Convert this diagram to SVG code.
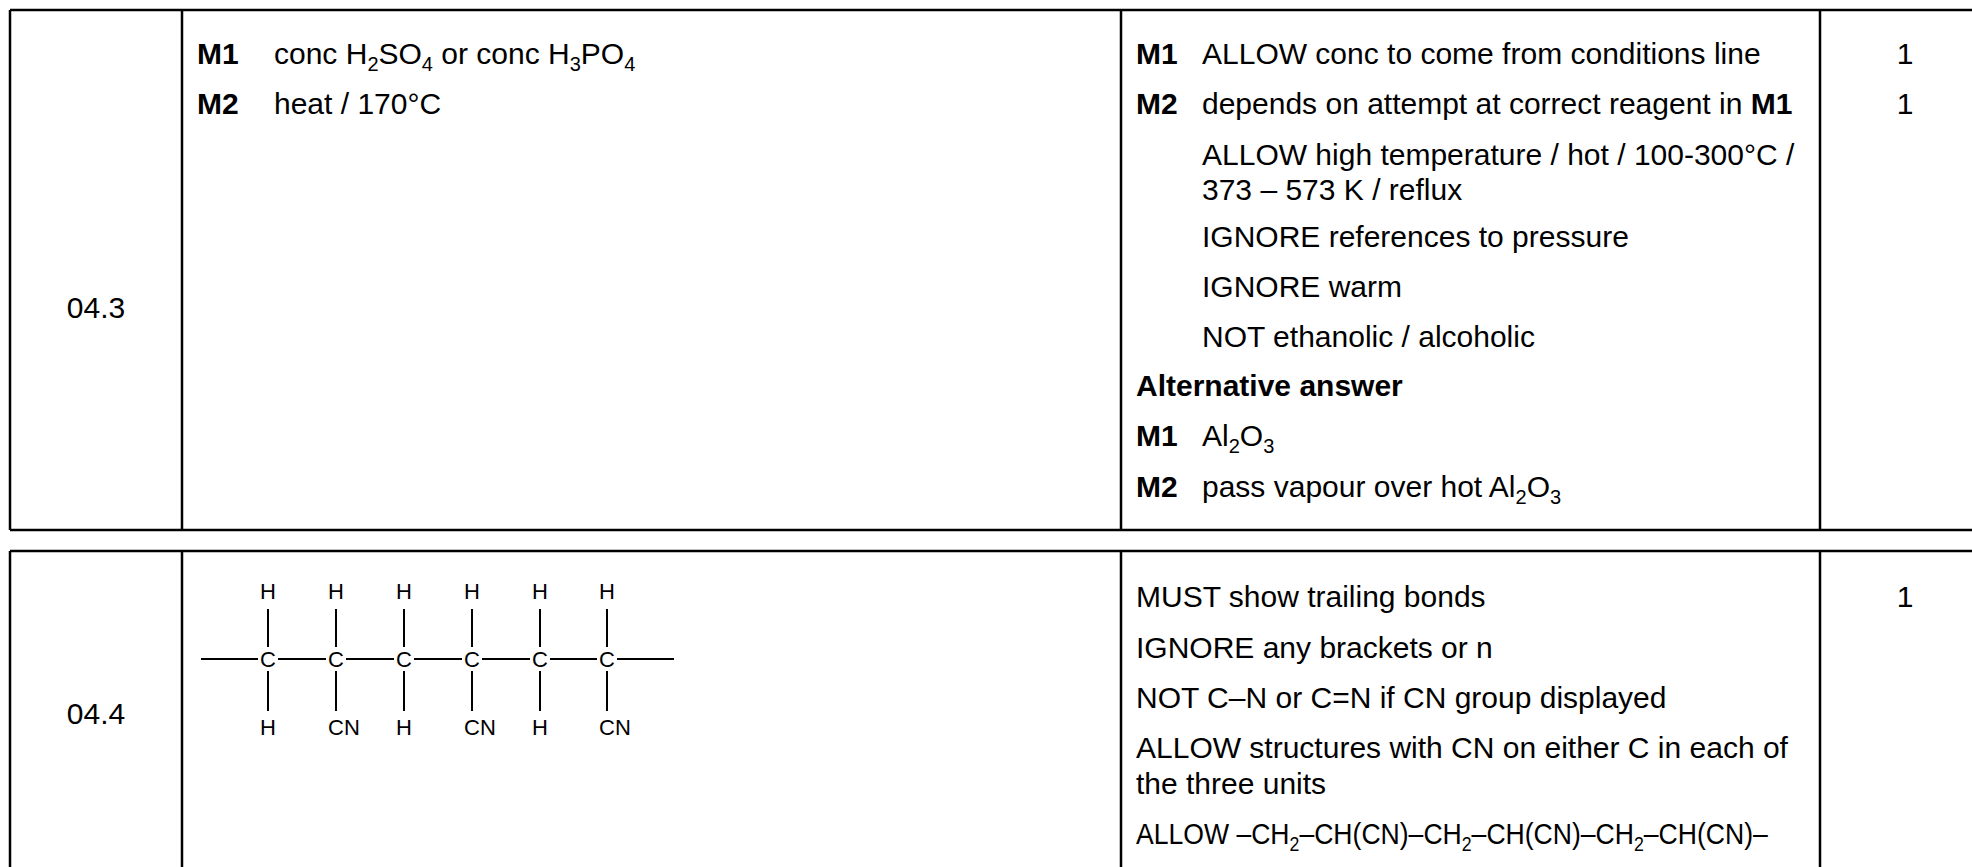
<svg xmlns="http://www.w3.org/2000/svg" width="1972" height="867" viewBox="0 0 1972 867">
<style>
.t{font-family:"Liberation Sans",Arial,sans-serif;font-size:30px;fill:#000}
.b{font-weight:bold}
.s{font-family:"Liberation Sans",Arial,sans-serif;font-size:22px;fill:#000}
.ln{stroke:#000;stroke-width:2.5;fill:none}
.bd{stroke:#000;stroke-width:2;fill:none}
</style>
<rect width="1972" height="867" fill="#fff"/>
<g id="table1">
<line class="ln" x1="10" y1="10" x2="1972" y2="10"/>
<line class="ln" x1="10" y1="530" x2="1972" y2="530"/>
<line class="ln" x1="10" y1="10" x2="10" y2="530"/>
<line class="ln" x1="182" y1="10" x2="182" y2="530"/>
<line class="ln" x1="1121" y1="10" x2="1121" y2="530"/>
<line class="ln" x1="1820" y1="10" x2="1820" y2="530"/>
</g>
<g id="row043">
<text class="t" x="96" y="318" text-anchor="middle">04.3</text>
<text class="t b" x="197" y="64">M1</text>
<text class="t" x="274" y="64">conc H<tspan font-size="20" dy="7">2</tspan><tspan dy="-7">SO</tspan><tspan font-size="20" dy="7">4</tspan><tspan dy="-7"> or conc H</tspan><tspan font-size="20" dy="7">3</tspan><tspan dy="-7">PO</tspan><tspan font-size="20" dy="7">4</tspan></text>
<text class="t b" x="197" y="114">M2</text>
<text class="t" x="274" y="114">heat / 170°C</text>
<text class="t b" x="1136" y="64">M1</text>
<text class="t" x="1202" y="64">ALLOW conc to come from conditions line</text>
<text class="t b" x="1136" y="114">M2</text>
<text class="t" x="1202" y="114">depends on attempt at correct reagent in <tspan class="b">M1</tspan></text>
<text class="t" x="1202" y="165">ALLOW high temperature / hot / 100-300°C /</text>
<text class="t" x="1202" y="200">373 – 573 K / reflux</text>
<text class="t" x="1202" y="247">IGNORE references to pressure</text>
<text class="t" x="1202" y="297">IGNORE warm</text>
<text class="t" x="1202" y="347">NOT ethanolic / alcoholic</text>
<text class="t b" x="1136" y="396">Alternative answer</text>
<text class="t b" x="1136" y="446">M1</text>
<text class="t" x="1202" y="446">Al<tspan font-size="20" dy="7">2</tspan><tspan dy="-7">O</tspan><tspan font-size="20" dy="7">3</tspan></text>
<text class="t b" x="1136" y="497">M2</text>
<text class="t" x="1202" y="497">pass vapour over hot Al<tspan font-size="20" dy="7">2</tspan><tspan dy="-7">O</tspan><tspan font-size="20" dy="7">3</tspan></text>
<text class="t" x="1905" y="64" text-anchor="middle">1</text>
<text class="t" x="1905" y="114" text-anchor="middle">1</text>
</g>
<g id="table2">
<line class="ln" x1="10" y1="551" x2="1972" y2="551"/>
<line class="ln" x1="10" y1="551" x2="10" y2="867"/>
<line class="ln" x1="182" y1="551" x2="182" y2="867"/>
<line class="ln" x1="1121" y1="551" x2="1121" y2="867"/>
<line class="ln" x1="1820" y1="551" x2="1820" y2="867"/>
</g>
<g id="row044">
<text class="t" x="96" y="724" text-anchor="middle">04.4</text>
<text class="t" x="1136" y="607">MUST show trailing bonds</text>
<text class="t" x="1136" y="658">IGNORE any brackets or n</text>
<text class="t" x="1136" y="708">NOT C–N or C=N if CN group displayed</text>
<text class="t" x="1136" y="758">ALLOW structures with CN on either C in each of</text>
<text class="t" x="1136" y="794">the three units</text>
<text class="t" transform="translate(1136,844) scale(0.886,1)" x="0" y="0">ALLOW –CH<tspan font-size="20" dy="7">2</tspan><tspan dy="-7">–CH(CN)–CH</tspan><tspan font-size="20" dy="7">2</tspan><tspan dy="-7">–CH(CN)–CH</tspan><tspan font-size="20" dy="7">2</tspan><tspan dy="-7">–CH(CN)–</tspan></text>
<text class="t" x="1905" y="607" text-anchor="middle">1</text>
</g>
<g id="structure">
<g class="bd">
<line x1="201" y1="659" x2="258" y2="659"/>
<line x1="278" y1="659" x2="326" y2="659"/>
<line x1="346" y1="659" x2="394" y2="659"/>
<line x1="414" y1="659" x2="462" y2="659"/>
<line x1="482" y1="659" x2="530" y2="659"/>
<line x1="550" y1="659" x2="597" y2="659"/>
<line x1="617" y1="659" x2="674" y2="659"/>
<line x1="268" y1="609" x2="268" y2="647"/><line x1="268" y1="671" x2="268" y2="711"/>
<line x1="336" y1="609" x2="336" y2="647"/><line x1="336" y1="671" x2="336" y2="711"/>
<line x1="404" y1="609" x2="404" y2="647"/><line x1="404" y1="671" x2="404" y2="711"/>
<line x1="472" y1="609" x2="472" y2="647"/><line x1="472" y1="671" x2="472" y2="711"/>
<line x1="540" y1="609" x2="540" y2="647"/><line x1="540" y1="671" x2="540" y2="711"/>
<line x1="607" y1="609" x2="607" y2="647"/><line x1="607" y1="671" x2="607" y2="711"/>
</g>
<g class="s" text-anchor="middle">
<text x="268" y="599">H</text><text x="336" y="599">H</text><text x="404" y="599">H</text><text x="472" y="599">H</text><text x="540" y="599">H</text><text x="607" y="599">H</text>
<text x="268" y="667">C</text><text x="336" y="667">C</text><text x="404" y="667">C</text><text x="472" y="667">C</text><text x="540" y="667">C</text><text x="607" y="667">C</text>
<text x="268" y="735">H</text><text x="404" y="735">H</text><text x="540" y="735">H</text>
</g>
<g class="s">
<text x="328" y="735">CN</text><text x="464" y="735">CN</text><text x="599" y="735">CN</text>
</g>
</g>
</svg>
